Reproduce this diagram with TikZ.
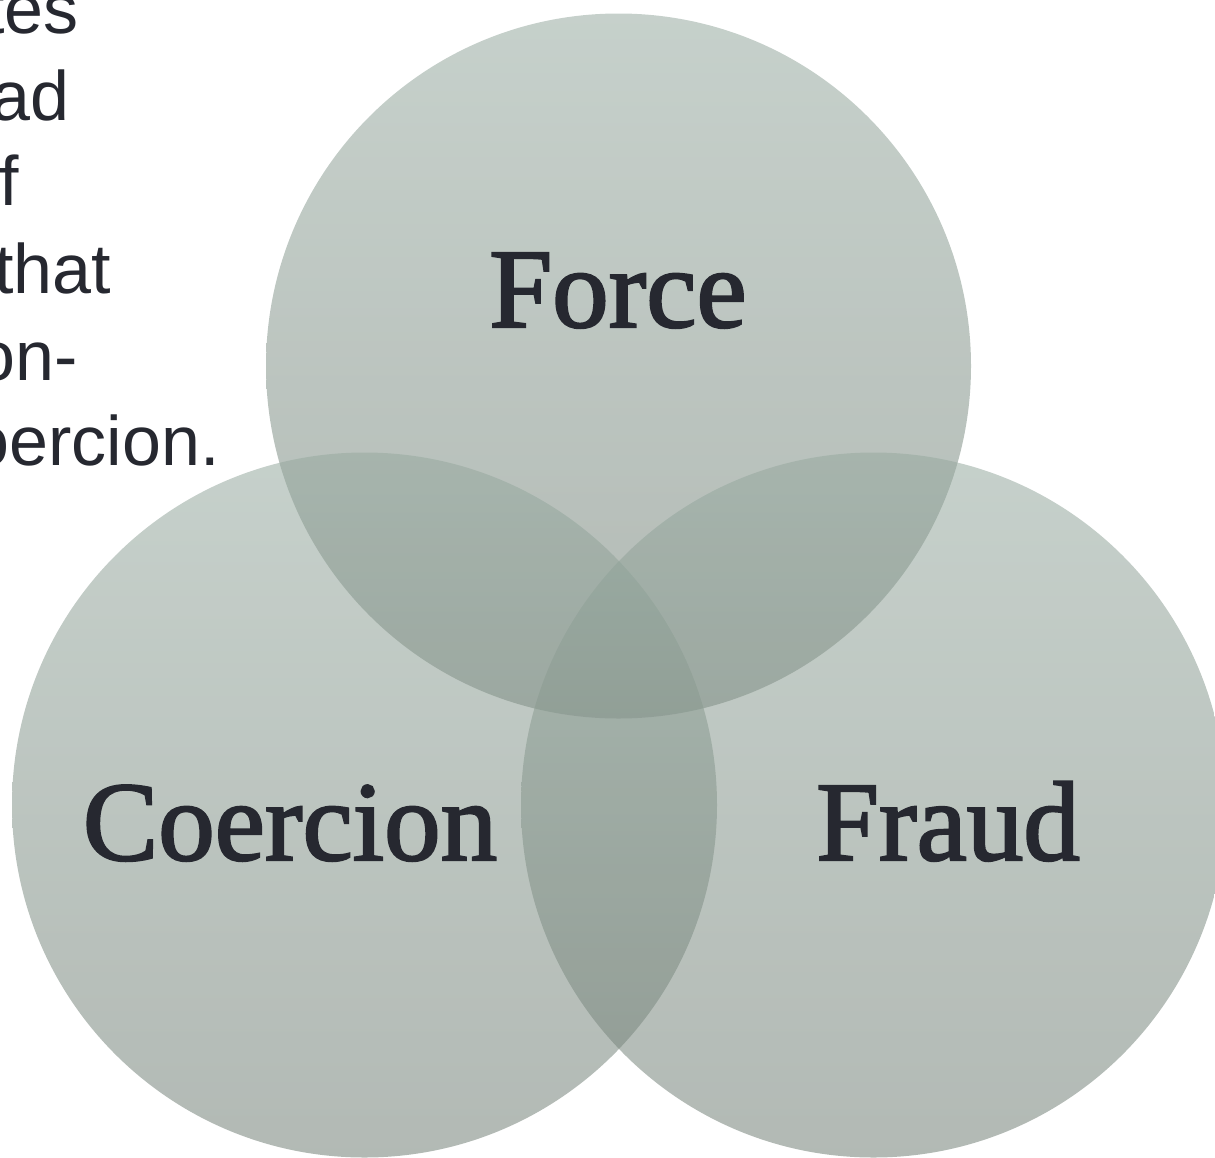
\documentclass[tikz,border=0pt]{standalone}
\usepackage{fontspec}
\setmainfont{Liberation Sans}
\newfontfamily\labelfont{Liberation Serif}[FakeBold=2]
\definecolor{txt}{HTML}{262830}
\definecolor{ctop}{RGB}{151,170,160}
\definecolor{cbot}{RGB}{115,128,119}
\tikzset{
  venn/.style={circle, minimum size=705pt, inner sep=0pt, top color=ctop, bottom color=cbot, fill opacity=0.55, draw=none},
  sidetext/.style={anchor=base east, inner sep=0pt, text=txt, font=\fontsize{70pt}{84pt}\selectfont},
  vlabel/.style={anchor=base, inner sep=0pt, text=txt, font=\labelfont\fontsize{113pt}{130pt}\selectfont}
}
\begin{document}
\begin{tikzpicture}[x=1pt,y=1pt]
\useasboundingbox (0,0) rectangle (1215,-1157);
\clip (0,0) rectangle (1215,-1157);
\node[venn] (force) at (618.5,-366) {};
\node[venn] (coercion) at (364.5,-805) {};
\node[venn] (fraud) at (873.5,-805) {};
\node[vlabel] (lforce) at (618,-327) {Force};
\node[vlabel] (lcoercion) at (290,-860) {Coercion};
\node[vlabel] (lfraud) at (948,-860) {Fraud};
\node[sidetext] (t1) at (79,-33) {tes};
\node[sidetext] (t2) at (70,-120) {ad};
\node[sidetext] (t3) at (19,-205) {f};
\node[sidetext] (t4) at (111,-293) {that};
\node[sidetext] (t5) at (78,-380) {on-};
\node[sidetext] (t6) at (220,-465) {oercion.};
\end{tikzpicture}
\end{document}
